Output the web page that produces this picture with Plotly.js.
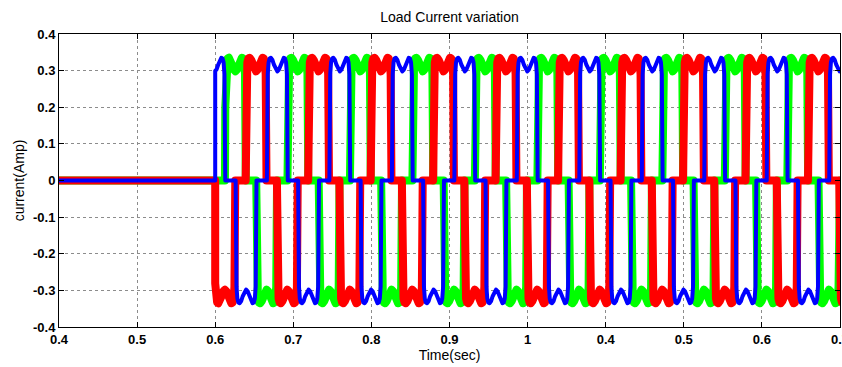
<!DOCTYPE html>
<html><head><meta charset="utf-8">
<script src="https://cdn.plot.ly/plotly-3.0.1.min.js"></script>
<style>html,body{margin:0;padding:0;background:#fff}#chart{width:842px;height:367px}
#chart path.js-line{stroke-linejoin:round !important;stroke-linecap:round !important}</style>
</head><body><div id="chart"></div>
<script>
// ---- data ----
const xTickVals = [0.4, 0.5, 0.6, 0.7, 0.8, 0.9, 1.0, 1.1, 1.2, 1.3, 1.4];
const xTickText = ['0.4', '0.5', '0.6', '0.7', '0.8', '0.9', '1', '0.4', '0.5', '0.6', '0.7'];
const yTickVals = [-0.4, -0.3, -0.2, -0.1, 0, 0.1, 0.2, 0.3, 0.4];
const yTickText = ['-0.4', '-0.3', '-0.2', '-0.1', '0', '0.1', '0.2', '0.3', '0.4'];

const startTime = 0.4;      // s, left end of the record
const switchOnTime = 0.6;   // s, load current starts
const endTime = 1.4;        // s
const pulseWidth = 0.0267;  // s, 120-degree conduction block

// start times (s) of the positive and negative conduction blocks of each phase
const bluePosStart  = [0.5862, 0.6662, 0.7462, 0.8262, 0.9062, 0.9862, 1.0662, 1.1462, 1.2262, 1.3062, 1.3862];
const blueNegStart  = [0.6262, 0.7062, 0.7862, 0.8662, 0.9462, 1.0262, 1.1062, 1.1862, 1.2662, 1.3462];
const redPosStart   = [0.6390, 0.7190, 0.7990, 0.8790, 0.9590, 1.0390, 1.1190, 1.1990, 1.2790, 1.3590];
const redNegStart   = [0.5990, 0.6790, 0.7590, 0.8390, 0.9190, 0.9990, 1.0790, 1.1590, 1.2390, 1.3190, 1.3990];
const greenPosStart = [0.6125, 0.6925, 0.7725, 0.8525, 0.9325, 1.0125, 1.0925, 1.1725, 1.2525, 1.3325];
const greenNegStart = [0.6525, 0.7325, 0.8125, 0.8925, 0.9725, 1.0525, 1.1325, 1.2125, 1.2925, 1.3725];

// shape of one conduction block (fraction of block, current in A)
const rippleU = [0, 0.015, 0.04, 0.08, 0.13, 0.19, 0.26, 0.34, 0.42, 0.50, 0.58, 0.66, 0.74, 0.81, 0.87, 0.92, 0.96, 0.985, 1];
const rippleI = [0, 0.20, 0.29, 0.322, 0.333, 0.335, 0.330, 0.316, 0.303, 0.298, 0.303, 0.316, 0.330, 0.335, 0.333, 0.322, 0.29, 0.20, 0];

// ---- build traces ----
function interp(u) {
  for (let i = 1; i < rippleU.length; i++) {
    if (u <= rippleU[i]) {
      const f = (u - rippleU[i - 1]) / (rippleU[i] - rippleU[i - 1]);
      return rippleI[i - 1] + f * (rippleI[i] - rippleI[i - 1]);
    }
  }
  return 0;
}
function buildPhase(posStarts, negStarts) {
  const pulses = posStarts.map(s => ({s: s, sign: 1})).concat(negStarts.map(s => ({s: s, sign: -1})));
  pulses.sort((a, b) => a.s - b.s);
  const x = [startTime], y = [0];
  for (const p of pulses) {
    if (p.s < switchOnTime) {
      x.push(switchOnTime); y.push(0);
      x.push(switchOnTime); y.push(p.sign * interp((switchOnTime - p.s) / pulseWidth));
    }
    for (let i = 0; i < rippleU.length; i++) {
      const t = p.s + rippleU[i] * pulseWidth;
      if (t < switchOnTime) continue;
      x.push(t); y.push(p.sign * rippleI[i]);
    }
  }
  if (x[x.length - 1] < endTime) { x.push(endTime); y.push(0); }
  return {x: x, y: y};
}
const g = buildPhase(greenPosStart, greenNegStart);
const r = buildPhase(redPosStart, redNegStart);
const b = buildPhase(bluePosStart, blueNegStart);

const traces = [
  {x: g.x, y: g.y, type: 'scatter', mode: 'lines', name: 'Phase C', line: {color: '#00FF00', width: 8}},
  {x: r.x, y: r.y, type: 'scatter', mode: 'lines', name: 'Phase B', line: {color: '#FF0000', width: 8}},
  {x: b.x, y: b.y, type: 'scatter', mode: 'lines', name: 'Phase A', line: {color: '#0000FF', width: 4}}
];

const fam = 'Liberation Sans, Arial, sans-serif';
const tickFont = {family: fam, size: 13, color: '#000', weight: 'bold'};
const layout = {
  width: 842, height: 367,
  margin: {l: 59, r: 2, t: 34, b: 40},
  paper_bgcolor: '#fff', plot_bgcolor: '#fff',
  showlegend: false,
  title: {text: 'Load Current variation', x: 0.5, xref: 'paper', xanchor: 'center', y: 0.953, yref: 'container', yanchor: 'middle',
          font: {family: fam, size: 14, color: '#000'}},
  xaxis: {
    range: [startTime, endTime], tickvals: xTickVals, ticktext: xTickText,
    tickfont: tickFont, ticks: 'inside', ticklen: 5, tickcolor: '#000', ticklabeloverflow: 'allow',
    showline: true, linecolor: '#000', linewidth: 1, mirror: 'ticks',
    showgrid: true, gridcolor: '#8c8c8c', griddash: 'dot', gridwidth: 1, zeroline: false,
    title: {text: 'Time(sec)', font: {family: fam, size: 14, color: '#000'}, standoff: 3}
  },
  yaxis: {
    range: [-0.4, 0.4], tickvals: yTickVals, ticktext: yTickText,
    tickfont: tickFont, ticks: 'inside', ticklen: 5, tickcolor: '#000',
    showline: true, linecolor: '#000', linewidth: 1, mirror: 'ticks',
    showgrid: true, gridcolor: '#8c8c8c', griddash: 'dot', gridwidth: 1, zeroline: false,
    title: {text: 'current(Amp)', font: {family: fam, size: 14, color: '#000'}, standoff: 5}
  }
};
Plotly.newPlot('chart', traces, layout, {staticPlot: true, displayModeBar: false});
</script>
</body></html>
